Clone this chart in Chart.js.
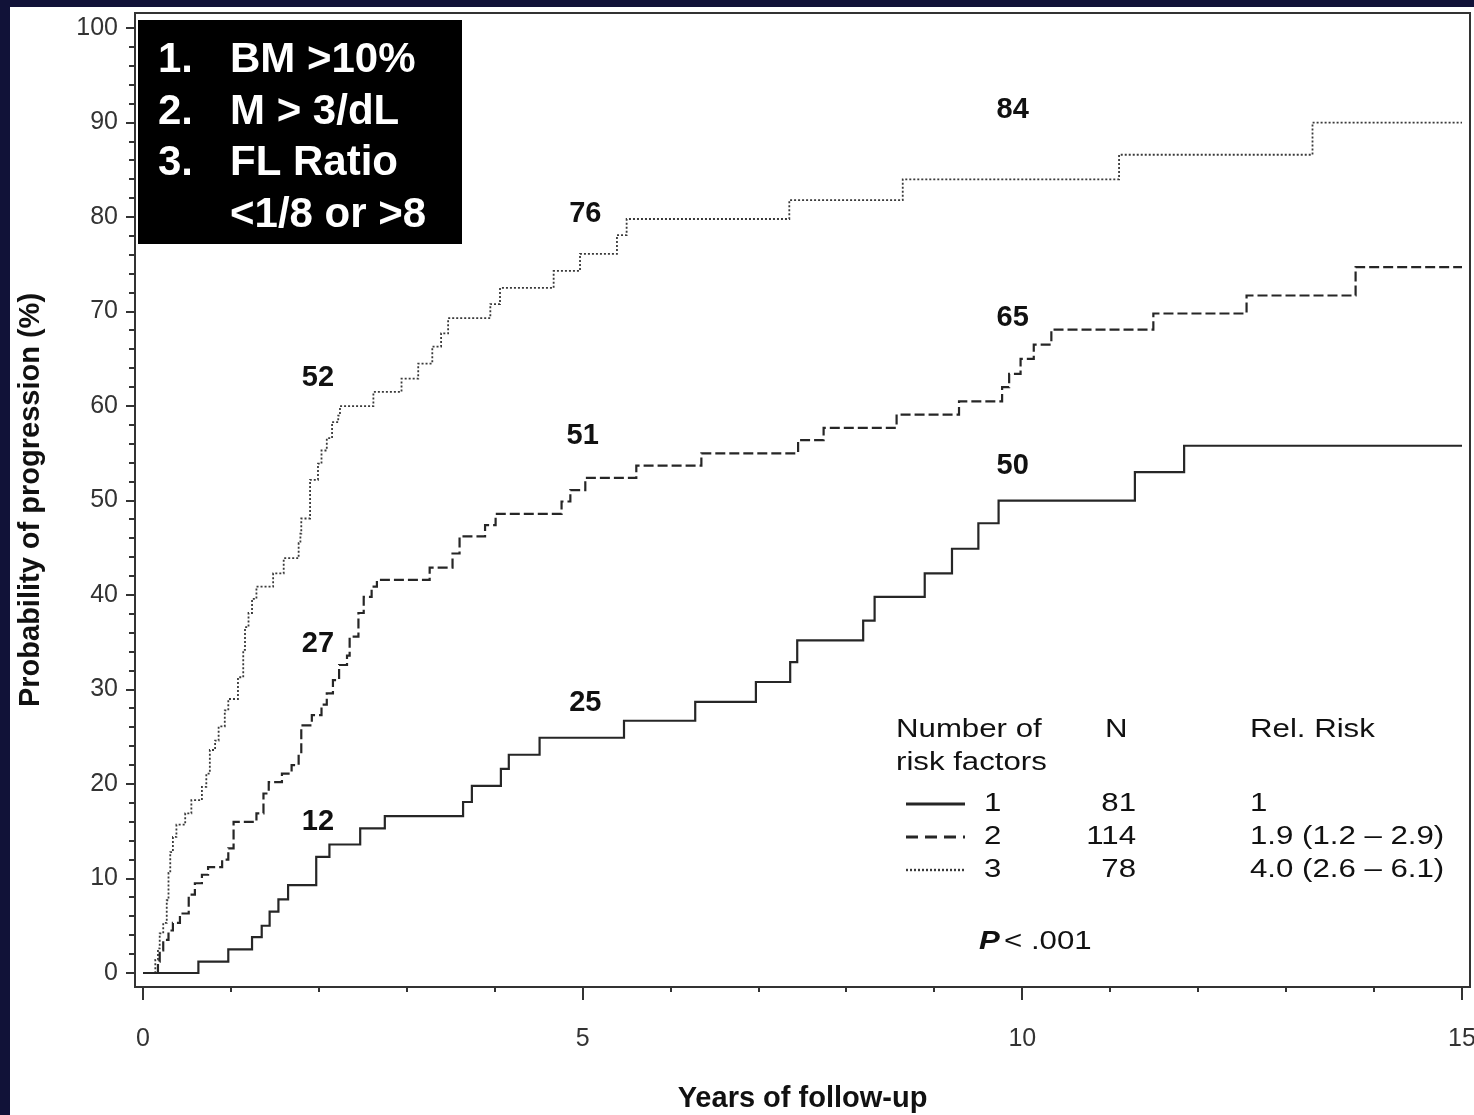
<!DOCTYPE html>
<html>
<head>
<meta charset="utf-8">
<script src="https://cdn.jsdelivr.net/npm/chart.js@4/dist/chart.umd.min.js"></script>
<style>
  html, body { margin:0; padding:0; background:#111238; width:1474px; height:1115px; overflow:hidden; }
  #panel { position:absolute; left:10px; top:7px; width:1464px; height:1108px; background:#ffffff; }
  canvas { display:block; }
</style>
</head>
<body>
<div id="panel"><canvas id="c" width="1464" height="1108"></canvas></div>
<script>
// ---- Data ----
// Number of risk factors = 1 (solid)
const RF1_YEARS = [0, 0.63, 0.97, 1.24, 1.35, 1.44, 1.54, 1.65, 1.97, 2.12, 2.47, 2.75, 3.64, 3.74, 4.07, 4.16, 4.51, 5.47, 6.28, 6.97, 7.36, 7.44, 8.19, 8.32, 8.89, 9.20, 9.50, 9.73, 11.28, 11.84, 15.0];
const RF1_PROG  = [0, 1.2, 2.5, 3.8, 5.0, 6.5, 7.8, 9.3, 12.3, 13.6, 15.3, 16.6, 18.1, 19.8, 21.6, 23.1, 24.9, 26.7, 28.7, 30.8, 32.9, 35.2, 37.3, 39.8, 42.3, 44.9, 47.6, 50.0, 53.0, 55.8, 55.8];
// Number of risk factors = 2 (dashed)
const RF2_YEARS = [0, 0.17, 0.19, 0.23, 0.29, 0.34, 0.42, 0.52, 0.59, 0.67, 0.74, 0.90, 0.97, 1.03, 1.29, 1.37, 1.43, 1.58, 1.69, 1.77, 1.80, 1.92, 2.03, 2.09, 2.16, 2.23, 2.32, 2.35, 2.45, 2.51, 2.60, 2.66, 3.26, 3.52, 3.60, 3.89, 4.01, 4.76, 4.86, 5.03, 5.61, 6.35, 7.45, 7.74, 8.57, 9.28, 9.77, 9.85, 9.98, 10.13, 10.33, 11.49, 12.55, 13.79, 15.0];
const RF2_PROG  = [0, 1.2, 2.4, 3.5, 4.5, 5.3, 6.3, 8.3, 9.5, 10.4, 11.2, 12.0, 13.2, 16.0, 16.9, 19.0, 20.2, 21.1, 22.0, 23.2, 26.2, 27.3, 28.4, 29.6, 31.0, 32.6, 33.6, 35.6, 38.1, 39.8, 40.9, 41.6, 42.9, 44.4, 46.2, 47.4, 48.6, 49.9, 51.1, 52.4, 53.7, 55.0, 56.4, 57.7, 59.1, 60.5, 62.0, 63.4, 65.0, 66.5, 68.1, 69.8, 71.7, 74.7, 74.7];
// Number of risk factors = 3 (dotted)
const RF3_YEARS = [0, 0.14, 0.17, 0.19, 0.23, 0.27, 0.29, 0.31, 0.34, 0.38, 0.48, 0.55, 0.67, 0.72, 0.76, 0.82, 0.86, 0.93, 0.97, 1.08, 1.14, 1.16, 1.20, 1.24, 1.29, 1.48, 1.60, 1.77, 1.79, 1.80, 1.90, 1.99, 2.03, 2.09, 2.15, 2.22, 2.24, 2.62, 2.94, 3.13, 3.29, 3.39, 3.47, 3.95, 4.06, 4.67, 4.97, 5.39, 5.50, 7.35, 8.64, 11.10, 13.30, 15.0];
const RF3_PROG  = [0, 1.4, 2.6, 4.2, 5.3, 7.7, 10.6, 12.8, 14.4, 15.7, 16.9, 18.3, 19.7, 21.1, 23.6, 24.6, 26.1, 27.8, 29.0, 31.3, 34.2, 36.6, 38.1, 39.6, 40.9, 42.3, 43.9, 45.5, 46.5, 48.1, 52.2, 53.9, 55.3, 56.6, 58.3, 59.0, 60.0, 61.5, 62.9, 64.5, 66.3, 67.7, 69.3, 70.8, 72.5, 74.3, 76.1, 78.1, 79.8, 81.8, 84.0, 86.6, 90.0, 90.0];

// Axis ticks
const X_TICKS = [0,1,2,3,4,5,6,7,8,9,10,11,12,13,14,15];
const X_LABELED = [0,5,10,15];
const Y_TICKS = [0,2,4,6,8,10,12,14,16,18,20,22,24,26,28,30,32,34,36,38,40,42,44,46,48,50,52,54,56,58,60,62,64,66,68,70,72,74,76,78,80,82,84,86,88,90,92,94,96,98,100];
const Y_LABELED = [0,10,20,30,40,50,60,70,80,90,100];

// Landmark value labels (text, year, probability anchor)
const MARK_TEXT  = ['12','27','52','25','51','76','50','65','84'];
const MARK_YEAR  = [1.99, 1.99, 1.99, 5.03, 5.0, 5.03, 9.89, 9.89, 9.89];
const MARK_PROB  = [16.0, 34.8, 63.0, 28.6, 56.8, 80.3, 53.7, 69.3, 91.3];

// Risk-factor list box
const FACTOR_NUM  = ['1.', '2.', '3.', ''];
const FACTOR_TEXT = ['BM >10%', 'M > 3/dL', 'FL Ratio', '<1/8 or >8'];

// Legend table
const GROUP_NAMES = ['1', '2', '3'];
const GROUP_N     = ['81', '114', '78'];
const GROUP_RR    = ['1', '1.9 (1.2 \u2013 2.9)', '4.0 (2.6 \u2013 6.1)'];

const FONT = "'Liberation Sans', Arial, Helvetica, sans-serif";

function toXY(xs, ys) { return xs.map((x, i) => ({ x: x, y: ys[i] })); }

const overlay = {
  id: 'overlay',
  beforeDatasetsDraw(chart) {
    const { ctx, chartArea: ca } = chart;
    const xs = chart.scales.x, ys = chart.scales.y;
    ctx.save();
    ctx.strokeStyle = '#333';
    ctx.lineWidth = 2;
    ctx.beginPath();
    Y_TICKS.forEach(v => {
      const py = Math.round(ys.getPixelForValue(v));
      const len = (v % 10 === 0) ? 9 : 6;
      ctx.moveTo(ca.left - len, py); ctx.lineTo(ca.left, py);
    });
    X_TICKS.forEach(v => {
      const px = Math.round(xs.getPixelForValue(v));
      const len = (v % 5 === 0) ? 13 : 5;
      ctx.moveTo(px, ca.bottom); ctx.lineTo(px, ca.bottom + len);
    });
    ctx.stroke();
    ctx.strokeRect(ca.left, ca.top, ca.right - ca.left, ca.bottom - ca.top);
    ctx.restore();
  },
  afterDatasetsDraw(chart) {
    const { ctx, chartArea: ca } = chart;
    const xs = chart.scales.x, ys = chart.scales.y;
    ctx.save();
    // landmark numbers
    ctx.fillStyle = '#111';
    ctx.font = 'bold 29px ' + FONT;
    ctx.textAlign = 'center';
    ctx.textBaseline = 'middle';
    MARK_TEXT.forEach((t, i) => {
      ctx.fillText(t, xs.getPixelForValue(MARK_YEAR[i]), ys.getPixelForValue(MARK_PROB[i]));
    });

    // black risk-factor box
    const bx = ca.left + 3, by = ca.top + 7;
    ctx.fillStyle = '#000';
    ctx.fillRect(bx, by, 324, 224);
    ctx.fillStyle = '#fff';
    ctx.font = 'bold 42px ' + FONT;
    ctx.textAlign = 'left';
    ctx.textBaseline = 'alphabetic';
    FACTOR_TEXT.forEach((t, i) => {
      const base = by + 52 + i * 51.5;
      if (FACTOR_NUM[i]) ctx.fillText(FACTOR_NUM[i], bx + 20, base);
      ctx.fillText(t, bx + 92, base);
    });

    // legend table
    const sx = 1.2;
    function st(text, x, y, align, font) {
      ctx.save();
      ctx.font = font || ('26px ' + FONT);
      ctx.textAlign = align;
      ctx.textBaseline = 'middle';
      ctx.translate(x, y);
      ctx.scale(sx, 1);
      ctx.fillText(text, 0, 0);
      ctx.restore();
    }
    const lx = ca.left + 761;
    ctx.fillStyle = '#111';
    st('Number of', lx, 723, 'left');
    st('N', lx + 209, 723, 'left');
    st('Rel. Risk', lx + 354, 723, 'left');
    st('risk factors', lx, 756, 'left');
    const rowY = [797, 830, 863];
    chart.data.datasets.forEach((ds, i) => {
      ctx.save();
      ctx.strokeStyle = ds.borderColor;
      ctx.lineWidth = ds.borderWidth + 0.6;
      ctx.setLineDash(i === 1 ? [12, 7] : (ds.borderDash || []));
      ctx.beginPath();
      ctx.moveTo(lx + 10, rowY[i]);
      ctx.lineTo(lx + 69, rowY[i]);
      ctx.stroke();
      ctx.restore();
      st(GROUP_NAMES[i], lx + 88, rowY[i], 'left');
      st(GROUP_N[i], lx + 240, rowY[i], 'right');
      st(GROUP_RR[i], lx + 354, rowY[i], 'left');
    });
    st('P', lx + 83, 935, 'left', 'bold italic 26px ' + FONT);
    st('< .001', lx + 108, 935, 'left');
    ctx.restore();
  }
};

const common = { pointRadius: 0, pointHoverRadius: 0, fill: false, stepped: 'before', tension: 0 };

new Chart(document.getElementById('c').getContext('2d'), {
  type: 'line',
  data: {
    datasets: [
      Object.assign({ label: '1', data: toXY(RF1_YEARS, RF1_PROG), borderColor: '#262626', borderWidth: 2.2 }, common),
      Object.assign({ label: '2', data: toXY(RF2_YEARS, RF2_PROG), borderColor: '#262626', borderWidth: 2.2, borderDash: [10, 4] }, common),
      Object.assign({ label: '3', data: toXY(RF3_YEARS, RF3_PROG), borderColor: '#3a3a3a', borderWidth: 1.8, borderDash: [2, 2] }, common)
    ]
  },
  options: {
    responsive: false,
    animation: false,
    devicePixelRatio: 1,
    layout: { padding: { top: 6, right: 4, left: 0, bottom: 0 } },
    plugins: { legend: { display: false }, tooltip: { enabled: false } },
    scales: {
      x: {
        type: 'linear', min: -0.091, max: 15.091,
        afterBuildTicks: s => { s.ticks = X_TICKS.map(v => ({ value: v })); },
        afterFit: s => { s.height = 128; s.paddingLeft = 0; s.paddingRight = 0; },
        grid: { display: false, drawTicks: false },
        border: { display: false },
        ticks: {
          autoSkip: false, maxRotation: 0, padding: 37, color: '#333',
          font: { family: FONT, size: 25 },
          callback: v => X_LABELED.includes(v) ? String(v) : ''
        },
        title: {
          display: true, text: 'Years of follow-up', color: '#111',
          font: { family: FONT, size: 29, weight: 'bold', lineHeight: 1 },
          padding: { top: 0, bottom: 2 }
        }
      },
      y: {
        type: 'linear', min: -1.48, max: 101.6,
        afterBuildTicks: s => { s.ticks = Y_TICKS.map(v => ({ value: v })); },
        afterFit: s => { s.width = 125; s.paddingTop = 0; s.paddingBottom = 0; },
        grid: { display: false, drawTicks: false },
        border: { display: false },
        ticks: {
          autoSkip: false, padding: 17, color: '#333',
          font: { family: FONT, size: 25 },
          callback: v => Y_LABELED.includes(v) ? String(v) : ''
        },
        title: {
          display: true, text: 'Probability of progression (%)', color: '#111',
          font: { family: FONT, size: 29, weight: 'bold', lineHeight: 1 },
          padding: { top: 6, bottom: 0 }
        }
      }
    }
  },
  plugins: [overlay]
});
</script>
</body>
</html>
